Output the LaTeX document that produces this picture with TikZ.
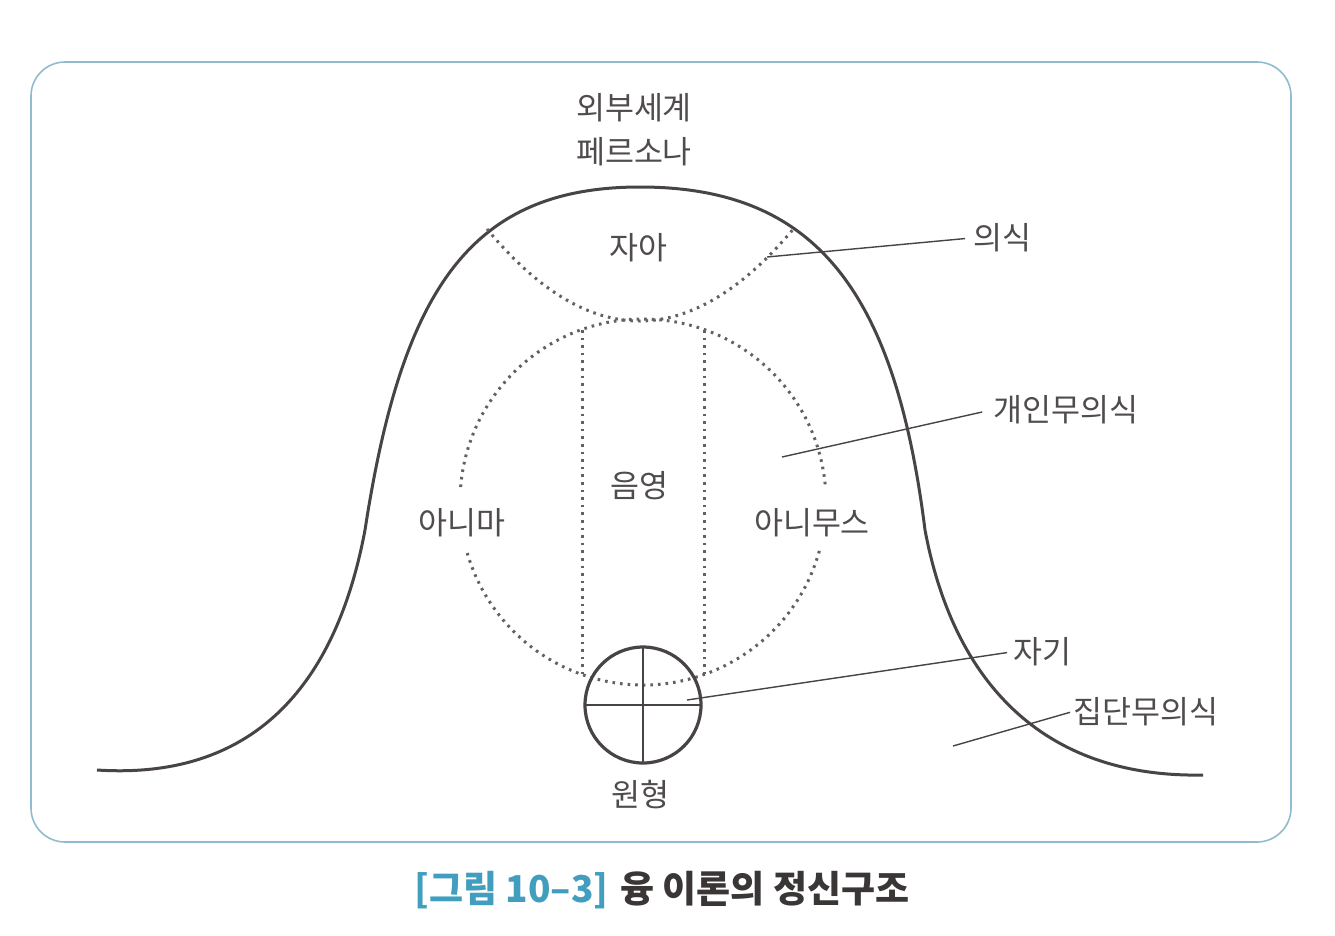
\documentclass[tikz,border=0pt]{standalone}
\usepackage{fontspec}
\setmainfont{Noto Sans CJK KR}
\definecolor{ink}{RGB}{72,68,68}
\definecolor{txtc}{RGB}{80,76,76}
\definecolor{dotc}{RGB}{100,95,100}
\definecolor{framec}{RGB}{145,188,208}
\definecolor{captblue}{RGB}{66,158,190}
\definecolor{captgray}{RGB}{58,54,54}
\begin{document}
\begin{tikzpicture}[x=1pt,y=-1pt,
  lbl/.style={font=\fontsize{31.5}{34}\selectfont, text=txtc, inner sep=2pt},
  bell/.style={draw=ink, line width=3pt},
  dotl/.style={draw=dotc, line width=3pt, dash pattern=on 2.6pt off 5pt},
  ptr/.style={draw=ink, line width=1.4pt},
  crossl/.style={draw=ink, line width=2.8pt}]
\useasboundingbox (0,0) rectangle (1335,935);
\fill[white] (0,0) rectangle (1335,935);
% frame
\draw[draw=framec, line width=1.6pt, rounded corners=34pt] (31,62) rectangle (1291,842);
% bell curve
\coordinate (b0) at (97,770);
\coordinate (b1) at (365,530);
\coordinate (b2) at (640,187);
\coordinate (b3) at (925,530);
\coordinate (b4) at (1203,775);
\draw[bell] (b0) .. controls (250,780) and (335,690) .. (b1)
  .. controls (402,290) and (470,187) .. (b2)
  .. controls (815,187) and (895,290) .. (b3)
  .. controls (955,690) and (1050,778) .. (b4);
% personal unconscious circle (dotted, with gaps for labels)
\coordinate (pu) at (643,502);
\draw[dotl] ([shift={(15.5:183)}]pu) arc[start angle=15.5, end angle=163.8, radius=183];
\draw[dotl] ([shift={(184.7:183)}]pu) arc[start angle=184.7, end angle=355.3, radius=183];
% ego arc
\coordinate (e1) at (487,229);
\coordinate (e2) at (795,227);
\draw[dotl] (e1) .. controls (589,352) and (691,352) .. (e2);
% shadow chords
\coordinate (v1t) at (582,330);
\coordinate (v1b) at (582,674);
\coordinate (v2t) at (704,330);
\coordinate (v2b) at (704,674);
\draw[dotl] (v1t) -- (v1b);
\draw[dotl] (v2t) -- (v2b);
% self circle
\node[circle, draw=ink, line width=3.2pt, minimum size=116pt, inner sep=0pt, outer sep=0pt] (self) at (643,705) {};
\draw[crossl] (self.north) -- (self.south);
\draw[crossl] (self.west) -- (self.east);
% labels
\node[lbl] (out1) at (634,108) {외부세계};
\node[lbl] (out2) at (634,152) {페르소나};
\node[lbl] (ego) at (638,248) {자아};
\node[lbl] (shadow) at (639,486) {음영};
\node[lbl] (anima) at (462,523) {아니마};
\node[lbl] (animus) at (812,523) {아니무스};
\node[lbl] (arch) at (640,795) {원형};
\node[lbl, anchor=west] (cons) at (971,238) {의식};
\node[lbl, anchor=west] (pers) at (991,410) {개인무의식};
\node[lbl, anchor=west] (selfl) at (1011,652) {자기};
\node[lbl, anchor=west] (coll) at (1071,712) {집단무의식};
% pointers
\coordinate (p1) at (767,257);
\coordinate (p2) at (782,457);
\coordinate (p3) at (687,700);
\coordinate (p4) at (953,746);
\draw[ptr, shorten >=6pt] (p1) -- (cons.west);
\draw[ptr, shorten >=9pt] (p2) -- (pers.west);
\draw[ptr, shorten >=4pt] (p3) -- (selfl.west);
\draw[ptr, shorten >=1pt] (p4) -- (coll.west);
% caption
\node[inner sep=0pt] (cap) at (662,890) {\fontsize{37}{42}\selectfont\bfseries\textcolor{captblue}{[그림 10–3]}\hspace{12pt}\textcolor{captgray}{융 이론의 정신구조}};
\end{tikzpicture}
\end{document}
